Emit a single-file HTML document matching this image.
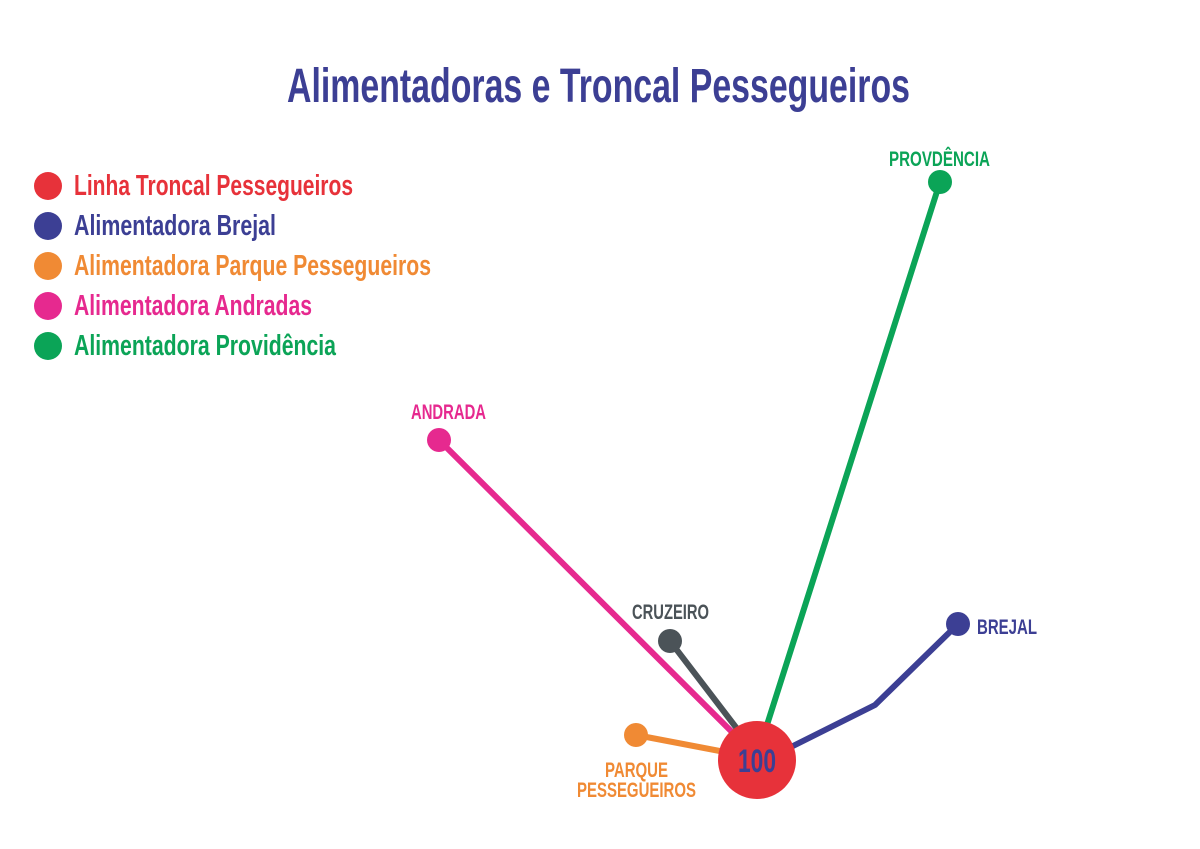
<!DOCTYPE html>
<html><head><meta charset="utf-8"><style>
html,body{margin:0;padding:0;background:#fff;}
svg{display:block;}
text{font-family:"Liberation Sans Narrow","Liberation Sans",sans-serif;font-weight:bold;}
</style></head><body>
<svg width="1200" height="849" viewBox="0 0 1200 849" xmlns="http://www.w3.org/2000/svg">
<rect width="1200" height="849" fill="#fff"/>
<text x="287" y="102" font-size="48" fill="#3c3f94" textLength="623" lengthAdjust="spacingAndGlyphs">Alimentadoras e Troncal Pessegueiros</text>
<g font-size="29">
<circle cx="48" cy="186" r="14" fill="#e7323a"/>
<text x="74" y="195" fill="#e7323a" textLength="279" lengthAdjust="spacingAndGlyphs">Linha Troncal Pessegueiros</text>
<circle cx="48" cy="226" r="14" fill="#3c3f94"/>
<text x="74" y="235" fill="#3c3f94" textLength="202" lengthAdjust="spacingAndGlyphs">Alimentadora Brejal</text>
<circle cx="48" cy="266" r="14" fill="#f08a34"/>
<text x="74" y="275" fill="#f08a34" textLength="357" lengthAdjust="spacingAndGlyphs">Alimentadora Parque Pessegueiros</text>
<circle cx="48" cy="306" r="14" fill="#e6298f"/>
<text x="74" y="315" fill="#e6298f" textLength="238" lengthAdjust="spacingAndGlyphs">Alimentadora Andradas</text>
<circle cx="48" cy="346" r="14" fill="#0ba457"/>
<text x="74" y="355" fill="#0ba457" textLength="262" lengthAdjust="spacingAndGlyphs">Alimentadora Providência</text>
</g>
<g stroke-width="6" fill="none" stroke-linecap="round" stroke-linejoin="round">
<line x1="439" y1="440" x2="735" y2="735" stroke="#e6298f"/>
<line x1="670" y1="641" x2="738" y2="730" stroke="#4b5358"/>
<line x1="940" y1="182" x2="766" y2="728" stroke="#0ba457"/>
<polyline points="785,750 875,705 958,624" stroke="#3c3f94"/>
<line x1="636" y1="735" x2="725" y2="752" stroke="#f08a34"/>
</g>
<circle cx="439" cy="440" r="12" fill="#e6298f"/>
<circle cx="670" cy="641" r="12" fill="#4b5358"/>
<circle cx="940" cy="182" r="12" fill="#0ba457"/>
<circle cx="958" cy="624" r="12" fill="#3c3f94"/>
<circle cx="636" cy="735" r="12" fill="#f08a34"/>
<circle cx="757" cy="760" r="39" fill="#e7323a"/>
<text x="738" y="772" font-size="32" fill="#3c3f94" textLength="38" lengthAdjust="spacingAndGlyphs">100</text>
<g font-size="21">
<text x="889" y="166" fill="#0ba457" textLength="101" lengthAdjust="spacingAndGlyphs">PROVDÊNCIA</text>
<text x="411" y="419" fill="#e6298f" textLength="75" lengthAdjust="spacingAndGlyphs">ANDRADA</text>
<text x="632" y="619" fill="#4b5358" textLength="77" lengthAdjust="spacingAndGlyphs">CRUZEIRO</text>
<text x="977" y="634" fill="#3c3f94" textLength="60" lengthAdjust="spacingAndGlyphs">BREJAL</text>
<text x="605" y="777" fill="#f08a34" textLength="63" lengthAdjust="spacingAndGlyphs">PARQUE</text>
<text x="577" y="797" fill="#f08a34" textLength="119" lengthAdjust="spacingAndGlyphs">PESSEGUEIROS</text>
</g>
</svg>
</body></html>
